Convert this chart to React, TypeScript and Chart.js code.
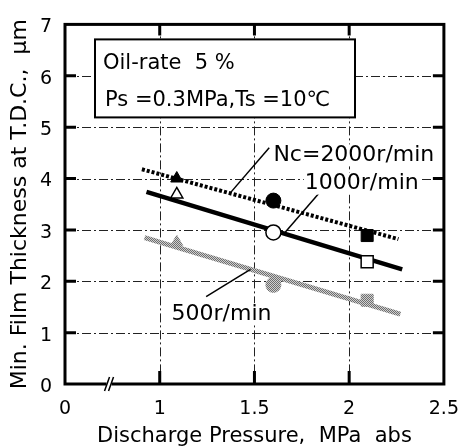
import React, { useEffect, useRef } from 'react';
import { Chart, registerables } from 'chart.js';
Chart.register(...registerables);

const FONT = '"DejaVu Sans", "Noto Sans CJK JP", sans-serif';

// x axis is broken: the first tick (0.5 on the scale) is labelled "0"
const xTickValues = [0.5, 1, 1.5, 2, 2.5];
const xTickLabels = ['0', '1', '1.5', '2', '2.5'];
const gridX = [1, 1.5, 2];
const gridY = [1, 2, 3, 4, 5, 6];
const axisBreakAt = 0.735;

const pressure = [1.09, 1.6, 2.095];
const film2000 = [4.0, 3.57, 2.89];
const film1000 = [3.69, 2.95, 2.38];
const film500 = [2.76, 1.93, 1.63];

const fitX2000 = [0.906, 2.26];
const fitY2000 = [4.18, 2.82];
const fitX1000 = [0.93, 2.28];
const fitY1000 = [3.74, 2.23];
const fitX500 = [0.92, 2.27];
const fitY500 = [2.85, 1.36];

const markerStyles = ['triangle', 'circle', 'rect'];
const markerSizes = [7, 7.5, 8.5];

const notes = [
  { text: 'Nc=2000r/min', x: 1.6, y: 4.45, from: [1.375, 3.73], to: [1.578, 4.6] },
  { text: '1000r/min', x: 1.766, y: 3.9, from: [1.661, 2.95], to: [1.844, 3.73] },
  { text: '500r/min', x: 1.0625, y: 1.36, from: [1.245, 1.7], to: [1.479, 2.23] },
];

const boxLines = ['Oil-rate  5 %', 'Ps =0.3MPa,Ts =10\u2103'];

const pts = (xs: number[], ys: number[]) => xs.map((x, i) => ({ x, y: ys[i] }));

export default function App() {
  const ref = useRef<HTMLCanvasElement>(null);
  useEffect(() => {
    const pc = document.createElement('canvas');
    pc.width = 4;
    pc.height = 4;
    const g = pc.getContext('2d')!;
    g.fillStyle = '#cfcfcf';
    g.fillRect(0, 0, 4, 4);
    g.fillStyle = '#6e6e6e';
    for (let i = 0; i < 4; i++) {
      g.fillRect(i, i % 4, 1, 1);
      g.fillRect(i, (i + 2) % 4, 1, 1);
    }
    const ctx0 = ref.current!.getContext('2d')!;
    const hatch = ctx0.createPattern(pc, 'repeat')!;

    const deco = {
      id: 'deco',
      beforeDatasetsDraw(chart: any) {
        const { ctx, chartArea: a, scales } = chart;
        const xs = scales.x, ys = scales.y;
        ctx.save();
        ctx.strokeStyle = '#222';
        ctx.lineWidth = 1;
        ctx.setLineDash([9, 3, 2, 3]);
        gridX.forEach((v) => {
          const p = Math.round(xs.getPixelForValue(v)) + 0.5;
          ctx.beginPath();
          ctx.moveTo(p, a.top);
          ctx.lineTo(p, a.bottom);
          ctx.stroke();
        });
        gridY.forEach((v) => {
          const p = Math.round(ys.getPixelForValue(v)) + 0.5;
          ctx.beginPath();
          ctx.moveTo(a.left, p);
          ctx.lineTo(a.right, p);
          ctx.stroke();
        });
        ctx.setLineDash([]);
        // condition box
        const bx = a.left + 30, by = a.top + 15, bw = 260, bh = 78;
        ctx.fillStyle = '#fff';
        ctx.fillRect(bx, by, bw, bh);
        ctx.lineWidth = 2;
        ctx.strokeStyle = '#000';
        ctx.strokeRect(bx, by, bw, bh);
        ctx.fillStyle = '#000';
        ctx.font = `21px ${FONT}`;
        ctx.textBaseline = 'middle';
        ctx.textAlign = 'left';
        ctx.fillText(boxLines[0], bx + 8, by + 24);
        ctx.fillText(boxLines[1], bx + 10, by + 61);
        ctx.restore();
      },
      afterDatasetsDraw(chart: any) {
        const { ctx, chartArea: a, scales } = chart;
        const xs = scales.x, ys = scales.y;
        ctx.save();
        // frame
        ctx.strokeStyle = '#000';
        ctx.lineWidth = 3;
        ctx.strokeRect(a.left, a.top, a.right - a.left, a.bottom - a.top);
        // inward ticks
        ctx.lineWidth = 3;
        gridX.forEach((v) => {
          const p = xs.getPixelForValue(v);
          ctx.beginPath();
          ctx.moveTo(p, a.bottom);
          ctx.lineTo(p, a.bottom - 13);
          ctx.moveTo(p, a.top);
          ctx.lineTo(p, a.top + 11);
          ctx.stroke();
        });
        gridY.forEach((v) => {
          const p = ys.getPixelForValue(v);
          ctx.beginPath();
          ctx.moveTo(a.left, p);
          ctx.lineTo(a.left + 11, p);
          ctx.moveTo(a.right, p);
          ctx.lineTo(a.right - 11, p);
          ctx.stroke();
        });
        // axis break
        const bxp = xs.getPixelForValue(axisBreakAt);
        ctx.fillStyle = '#fff';
        ctx.fillRect(bxp - 3, a.bottom - 3, 5, 6);
        ctx.lineWidth = 1.5;
        ctx.beginPath();
        ctx.moveTo(bxp - 5, a.bottom + 7);
        ctx.lineTo(bxp, a.bottom - 7);
        ctx.moveTo(bxp - 1, a.bottom + 7);
        ctx.lineTo(bxp + 4, a.bottom - 7);
        ctx.stroke();
        // annotations
        ctx.font = `22px ${FONT}`;
        ctx.textBaseline = 'middle';
        ctx.textAlign = 'left';
        notes.forEach((n) => {
          ctx.strokeStyle = '#000';
          ctx.lineWidth = 1.5;
          ctx.beginPath();
          ctx.moveTo(xs.getPixelForValue(n.from[0]), ys.getPixelForValue(n.from[1]));
          ctx.lineTo(xs.getPixelForValue(n.to[0]), ys.getPixelForValue(n.to[1]));
          ctx.stroke();
          const tx = xs.getPixelForValue(n.x), ty = ys.getPixelForValue(n.y);
          const w = ctx.measureText(n.text).width;
          ctx.fillStyle = '#fff';
          ctx.fillRect(tx - 1, ty - 11, w + 2, 22);
          ctx.fillStyle = '#000';
          ctx.fillText(n.text, tx, ty);
        });
        ctx.restore();
      },
    };

    const chart = new Chart(ref.current!, {
      type: 'scatter',
      data: {
        datasets: [
          {
            label: '1000',
            data: pts(pressure, film1000),
            pointStyle: markerStyles as any,
            pointRadius: markerSizes,
            backgroundColor: '#fff',
            borderColor: '#000',
            borderWidth: 1.5,
            showLine: false,
          },
          {
            label: '2000',
            data: pts(pressure, film2000),
            pointStyle: markerStyles as any,
            pointRadius: markerSizes,
            backgroundColor: '#000',
            borderColor: '#000',
            borderWidth: 1,
            showLine: false,
          },
          {
            label: '500',
            data: pts(pressure, film500),
            pointStyle: markerStyles as any,
            pointRadius: markerSizes,
            backgroundColor: hatch as any,
            borderColor: hatch as any,
            borderWidth: 1,
            showLine: false,
          },
          {
            label: 'fit1000',
            data: pts(fitX1000, fitY1000),
            showLine: true,
            borderColor: '#000',
            borderWidth: 4.5,
            pointRadius: 0,
          },
          {
            label: 'fit2000',
            data: pts(fitX2000, fitY2000),
            showLine: true,
            borderColor: '#000',
            borderWidth: 4,
            borderDash: [3, 2],
            pointRadius: 0,
          },
          {
            label: 'fit500',
            data: pts(fitX500, fitY500),
            showLine: true,
            borderColor: hatch as any,
            borderWidth: 5,
            pointRadius: 0,
          },
        ],
      },
      options: {
        responsive: false,
        animation: false,
        devicePixelRatio: 1,
        layout: { padding: { top: 14, right: 25, left: 0, bottom: 0 } },
        plugins: { legend: { display: false }, tooltip: { enabled: false } },
        scales: {
          x: {
            type: 'linear',
            min: 0.5,
            max: 2.5,
            afterBuildTicks: (s: any) => {
              s.ticks = xTickValues.map((v) => ({ value: v }));
            },
            afterFit: (s: any) => {
              s.height = 64;
            },
            ticks: {
              callback: (_v: any, i: number) => xTickLabels[i],
              font: { family: FONT, size: 19 },
              color: '#000',
              padding: 14,
              maxRotation: 0,
              autoSkip: false,
            },
            grid: { display: false, drawTicks: false },
            border: { display: false },
            title: {
              display: true,
              text: 'Discharge Pressure,  MPa  abs',
              font: { family: FONT, size: 21 },
              color: '#000',
              padding: { top: 0, bottom: -1 },
            },
          },
          y: {
            min: 0,
            max: 7,
            afterFit: (s: any) => {
              s.width = 65;
            },
            ticks: {
              stepSize: 1,
              font: { family: FONT, size: 19 },
              color: '#000',
              padding: 13,
              labelOffset: 3,
            },
            grid: { display: false, drawTicks: false },
            border: { display: false },
            title: {
              display: true,
              text: 'Min. Film Thickness at T.D.C.,  \u03bcm',
              font: { family: FONT, size: 22 },
              color: '#000',
              padding: { top: 7, bottom: 0 },
            },
          },
        },
      },
      plugins: [deco],
    });
    return () => chart.destroy();
  }, []);
  return (
    <div style={{ position: 'fixed', left: 0, top: 0, width: 473, height: 448, background: '#fff' }}>
      <canvas ref={ref} width={473} height={448} style={{ display: 'block' }} />
    </div>
  );
}
